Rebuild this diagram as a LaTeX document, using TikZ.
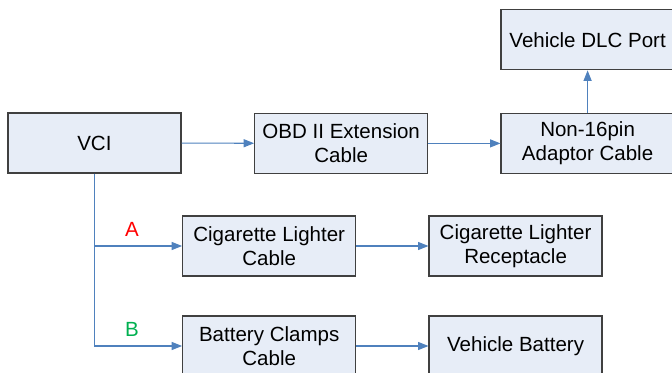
\documentclass[tikz,border=0pt]{standalone}
\usepackage{fontspec}
\setmainfont{Liberation Sans}
\usetikzlibrary{arrows.meta}
\definecolor{boxfill}{RGB}{231,237,247}
\definecolor{boxline}{RGB}{64,64,64}
\definecolor{linkblue}{RGB}{79,129,189}
\definecolor{labelred}{RGB}{255,0,0}
\definecolor{labelgreen}{RGB}{0,176,80}
\tikzset{
  unit/.style={draw=boxline, fill=boxfill, line width=0.9pt, minimum width=4.325cm,
    minimum height=1.5cm, inner sep=0pt, align=center,
    font=\fontsize{14.6}{17.2}\selectfont},
  link/.style={draw=linkblue, line width=0.75pt, -{Triangle[length=0.26cm,width=0.2cm]}},
  tag/.style={font=\fontsize{14.6}{17.2}\selectfont}
}

\begin{document}
\begin{tikzpicture}
            \useasboundingbox (0,0) rectangle (16.8,9.325);

            % Top row
            \node[unit] (vci) at (2.36,5.75) {VCI};
            \node[unit] (ext) at (8.53,5.74) {OBD II Extension\\Cable};
            \node[unit] (adp) at (14.69,5.74) {Non-16pin\\Adaptor Cable};
            \node[unit] (dlc) at (14.69,8.33) {Vehicle DLC Port};

            % Power options
            \node[unit] (cig) at (6.73,3.175) {Cigarette Lighter\\Cable};
            \node[unit] (rec) at (12.89,3.175) {Cigarette Lighter\\Receptacle};
            \node[unit] (clp) at (6.73,0.675) {Battery Clamps\\Cable};
            \node[unit] (bat) at (12.89,0.675) {Vehicle Battery};

            % Labels
            \node[tag, text=labelred] (taga) at (3.3,3.6) {A};
            \node[tag, text=labelgreen] (tagb) at (3.3,1.1) {B};

            % Connections
            \draw[link] (vci) -- (ext);
            \draw[link] (ext) -- (adp);
            \draw[link] (adp) -- (dlc);
            \draw[link] (vci.south) |- (cig.west);
            \draw[link] (vci.south) |- (clp.west);
            \draw[link] (cig) -- (rec);
            \draw[link] (clp) -- (bat);
        \end{tikzpicture}
\end{document}
